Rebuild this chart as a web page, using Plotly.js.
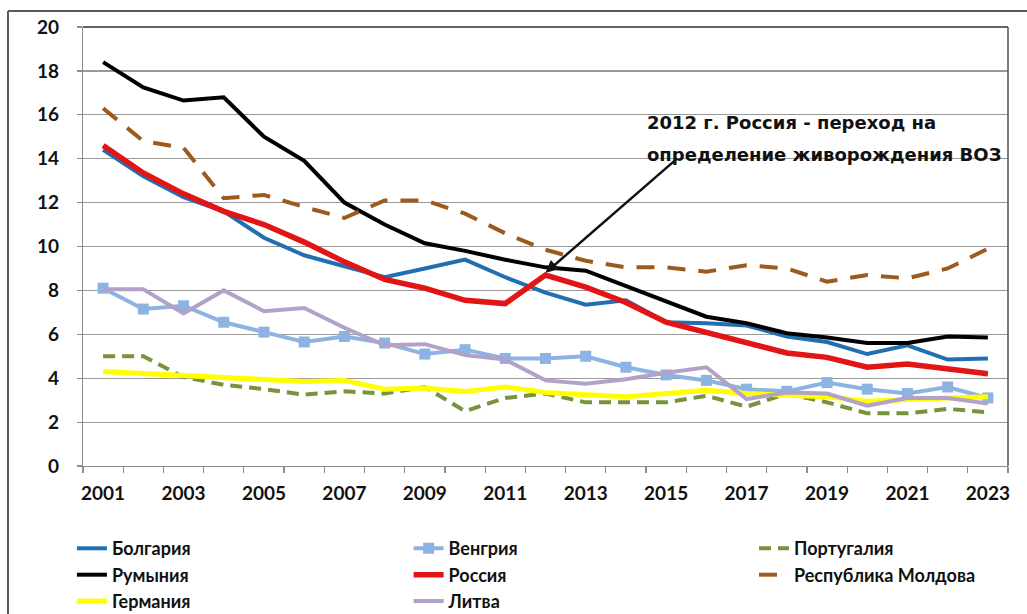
<!DOCTYPE html>
<html>
<head>
<meta charset="utf-8">
<script src="https://cdn.plot.ly/plotly-3.0.1.min.js"></script>
<style>html,body{margin:0;padding:0;background:#fff;}#chart{width:1027px;height:614px;}</style>
</head>
<body>
<div id="chart"></div>
<script>
const years = [2001,2002,2003,2004,2005,2006,2007,2008,2009,2010,2011,2012,2013,2014,2015,2016,2017,2018,2019,2020,2021,2022,2023];
const tickYears = [2001,2003,2005,2007,2009,2011,2013,2015,2017,2019,2021,2023];

const bulgaria  = [14.4,13.2,12.25,11.6,10.4,9.6,9.1,8.6,9.0,9.4,8.6,7.9,7.35,7.55,6.55,6.5,6.4,5.9,5.65,5.1,5.5,4.85,4.9];
const hungary   = [8.1,7.15,7.3,6.55,6.1,5.65,5.9,5.6,5.1,5.3,4.9,4.9,5.0,4.5,4.15,3.9,3.5,3.4,3.8,3.5,3.3,3.6,3.1];
const portugal  = [5.0,5.0,4.05,3.7,3.5,3.25,3.4,3.3,3.6,2.5,3.1,3.3,2.9,2.9,2.9,3.2,2.7,3.3,2.9,2.4,2.4,2.6,2.45];
const romania   = [18.4,17.25,16.65,16.8,15.0,13.9,12.0,11.0,10.15,9.8,9.4,9.05,8.9,8.2,7.5,6.8,6.5,6.05,5.85,5.6,5.6,5.9,5.85];
const russia    = [14.6,13.35,12.4,11.6,11.0,10.2,9.3,8.5,8.1,7.55,7.4,8.7,8.15,7.45,6.55,6.1,5.6,5.15,4.95,4.5,4.65,4.45,4.2];
const moldova   = [16.3,14.8,14.5,12.2,12.35,11.8,11.3,12.1,12.1,11.5,10.6,9.85,9.35,9.05,9.05,8.85,9.15,9.0,8.4,8.7,8.55,9.0,9.9];
const germany   = [4.3,4.2,4.15,4.05,3.95,3.85,3.9,3.5,3.55,3.4,3.6,3.35,3.25,3.15,3.3,3.45,3.3,3.2,3.15,2.95,3.05,3.1,3.15];
const lithuania = [8.05,8.05,6.95,8.0,7.05,7.2,6.3,5.5,5.55,5.05,4.85,3.9,3.75,3.95,4.25,4.5,3.05,3.35,3.3,2.75,3.1,3.1,2.85];

const names = ['Болгария','Венгрия','Португалия','Румыния','Россия','Республика Молдова','Германия','Литва'];
const annLine1 = '2012 г. Россия - переход на';
const annLine2 = 'определение живорождения ВОЗ';

const legendFont = {family: 'Lato, "Liberation Sans", sans-serif', size: 18, color: '#111', weight: 700};

function tr(y, name, color, width, dash, legend, extra) {
  return Object.assign({
    type: 'scatter', mode: 'lines', x: years, y: y, name: name,
    line: {color: color, width: width, dash: dash},
    legend: legend
  }, extra || {});
}

const data = [
  tr(bulgaria, names[0], '#1F6FB2', 4, 'solid', 'legend'),
  tr(hungary, names[1], '#8DB3E2', 4, 'solid', 'legend2', {mode: 'lines+markers', marker: {symbol: 'square', size: 11, color: '#8DB3E2'}}),
  tr(portugal, names[2], '#77933C', 4, '12px,7px', 'legend3'),
  tr(romania, names[3], '#000000', 4, 'solid', 'legend'),
  tr(russia, names[4], '#E31414', 5.5, 'solid', 'legend2'),
  tr(moldova, names[5], '#9C5A1E', 4, '18px,13px', 'legend3'),
  tr(germany, names[6], '#FFFF00', 5, 'solid', 'legend'),
  tr(lithuania, names[7], '#B3A2C7', 4, 'solid', 'legend2')
];

const tickFont = {family: 'Lato, "Liberation Sans", sans-serif', size: 19, color: '#111', weight: 700};
const annFont = {family: '"DejaVu Sans", sans-serif', size: 18, color: '#111', weight: 700};

function leg(x) {
  return {x: x, y: -0.146, xanchor: 'left', yanchor: 'top', orientation: 'v',
    font: legendFont, bgcolor: 'rgba(0,0,0,0)', borderwidth: 0, tracegroupgap: 0, itemwidth: 30};
}

const layout = {
  width: 1027, height: 614,
  margin: {l: 83, r: 19, t: 27, b: 148, autoexpand: false},
  paper_bgcolor: '#ffffff', plot_bgcolor: '#ffffff',
  showlegend: true,
  legend: leg(-0.012),
  legend2: leg(0.352),
  legend3: leg(0.7254),
  xaxis: {
    range: [2000.5, 2023.5], tickmode: 'array', tickvals: tickYears, ticktext: tickYears.map(String),
    ticks: '', showgrid: false, zeroline: false,
    showline: true, linecolor: '#8c8c8c', linewidth: 1.2,
    tickfont: tickFont, ticklabelstandoff: 10,
    minor: {ticks: 'outside', tick0: 2000.5, dtick: 1, ticklen: 6, tickcolor: '#8c8c8c', tickwidth: 1.2, showgrid: false}
  },
  yaxis: {
    range: [0, 20], dtick: 2, tick0: 0,
    ticks: 'outside', ticklen: 5, tickcolor: '#8c8c8c', tickwidth: 1.2,
    showgrid: true, gridcolor: '#9a9a9a', gridwidth: 1.2, zeroline: false,
    showline: true, linecolor: '#8c8c8c', linewidth: 1.2,
    tickfont: tickFont, ticklabelstandoff: 14
  },
  shapes: [
    {type: 'line', xref: 'paper', yref: 'paper', x0: 0, x1: 1, y0: 1, y1: 1, line: {color: '#303030', width: 1.5}},
    {type: 'line', xref: 'paper', yref: 'paper', x0: 1, x1: 1, y0: 0, y1: 1, line: {color: '#505050', width: 1.5}},
    {type: 'line', xref: 'paper', yref: 'paper', x0: -0.0811, x1: 1.05, y0: 1.0364, y1: 1.0364, line: {color: '#595959', width: 2}},
    {type: 'line', xref: 'paper', yref: 'paper', x0: -0.0811, x1: -0.0811, y0: -0.5, y1: 1.0364, line: {color: '#595959', width: 2}}
  ],
  annotations: [
    {xref: 'x', yref: 'y', x: 2014.48, y: 15.63, xanchor: 'left', yanchor: 'middle', text: annLine1, showarrow: false, font: annFont},
    {xref: 'x', yref: 'y', x: 2014.48, y: 14.17, xanchor: 'left', yanchor: 'middle', text: annLine2, showarrow: false, font: annFont},
    {xref: 'x', yref: 'y', x: 2012, y: 8.8, axref: 'x', ayref: 'y', ax: 2015.3, ay: 14.05, text: '', showarrow: true,
      arrowhead: 2, arrowsize: 1, arrowwidth: 2.5, arrowcolor: '#111', standoff: 0}
  ]
};

Plotly.newPlot('chart', data, layout, {displayModeBar: false, staticPlot: true});
</script>
</body>
</html>
